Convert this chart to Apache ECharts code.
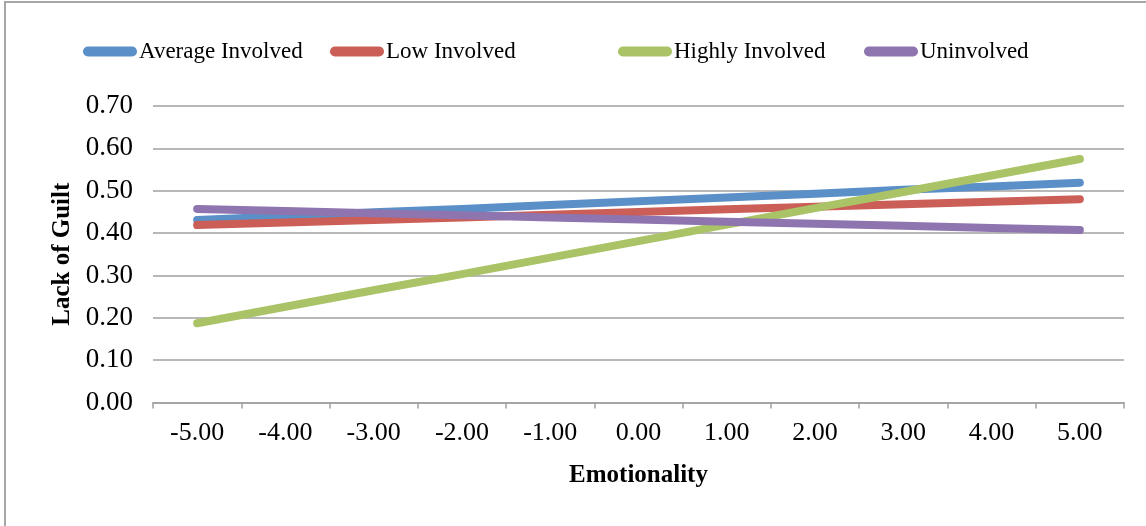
<!DOCTYPE html>
<html>
<head>
<meta charset="utf-8">
<script src="https://cdn.jsdelivr.net/npm/echarts@6/dist/echarts.min.js"></script>
<style>
html,body{margin:0;padding:0;background:#fff;}
#c{width:1146px;height:526px;}
</style>
</head>
<body>
<div id="c"></div>
<script>
const categories = ['-5.00','-4.00','-3.00','-2.00','-1.00','0.00','1.00','2.00','3.00','4.00','5.00'];
const averageInvolved = [0.431,0.440,0.449,0.457,0.466,0.475,0.484,0.493,0.502,0.510,0.519];
const lowInvolved = [0.419,0.425,0.431,0.437,0.443,0.450,0.456,0.462,0.468,0.474,0.480];
const highlyInvolved = [0.187,0.226,0.265,0.303,0.342,0.381,0.420,0.459,0.497,0.536,0.575];
const uninvolved = [0.457,0.452,0.447,0.442,0.437,0.432,0.427,0.422,0.417,0.412,0.407];
const seriesNames = ['Average Involved','Low Involved','Highly Involved','Uninvolved'];
const colors = ['#5A8FC8','#CB5F58','#A9C366','#8E75AF'];

const font = "'Liberation Serif','Times New Roman',serif";
const pill = 'path://M5,0 H49 A5,5 0 0 1 49,10 H5 A5,5 0 0 1 5,0 Z';
const legendLefts = [83, 330, 618, 864];

const chart = echarts.init(document.getElementById('c'));
const dataSets = [averageInvolved, lowInvolved, highlyInvolved, uninvolved];

chart.setOption({
  animation: false,
  backgroundColor: '#fff',
  color: colors,
  textStyle: { fontFamily: font },
  graphic: [{
    type: 'rect',
    shape: { x: 5, y: 2, width: 1200, height: 600 },
    style: { fill: 'none', stroke: '#a6a6a6', lineWidth: 2 },
    silent: true
  }],
  legend: seriesNames.map((n, i) => ({
    data: [n],
    left: legendLefts[i],
    top: 40,
    icon: pill,
    itemWidth: 54,
    itemHeight: 10,
    itemGap: 0,
    padding: 0,
    textStyle: { fontFamily: font, fontSize: 23, color: '#000', padding: [0,0,0,-3] }
  })),
  grid: { left: 153, right: 22, top: 106, bottom: 123.5, containLabel: false },
  xAxis: {
    type: 'category',
    data: categories,
    name: 'Emotionality',
    nameLocation: 'middle',
    nameGap: 61,
    nameTextStyle: { fontFamily: font, fontSize: 25, fontWeight: 'bold', color: '#000' },
    axisLine: { lineStyle: { color: '#a0a0a0', width: 1.5 } },
    axisTick: { show: true, length: 6, lineStyle: { color: '#a0a0a0', width: 1.5 } },
    axisLabel: { fontFamily: font, fontSize: 26, color: '#000', margin: 18 },
    splitLine: { show: false }
  },
  yAxis: {
    type: 'value',
    min: 0, max: 0.7, interval: 0.1,
    name: 'Lack of Guilt',
    nameLocation: 'middle',
    nameGap: 77,
    nameTextStyle: { fontFamily: font, fontSize: 25, fontWeight: 'bold', color: '#000' },
    axisLine: { show: false },
    axisTick: { show: false },
    axisLabel: { fontFamily: font, fontSize: 27, color: '#000', margin: 20, formatter: v => v.toFixed(2) },
    splitLine: { lineStyle: { color: '#a0a0a0', width: 1.5 } }
  },
  series: seriesNames.map((n, i) => ({
    name: n,
    type: 'line',
    data: dataSets[i],
    symbol: 'none',
    lineStyle: { width: 8, cap: 'round', join: 'round', color: colors[i] },
    itemStyle: { color: colors[i] }
  }))
});
</script>
</body>
</html>
